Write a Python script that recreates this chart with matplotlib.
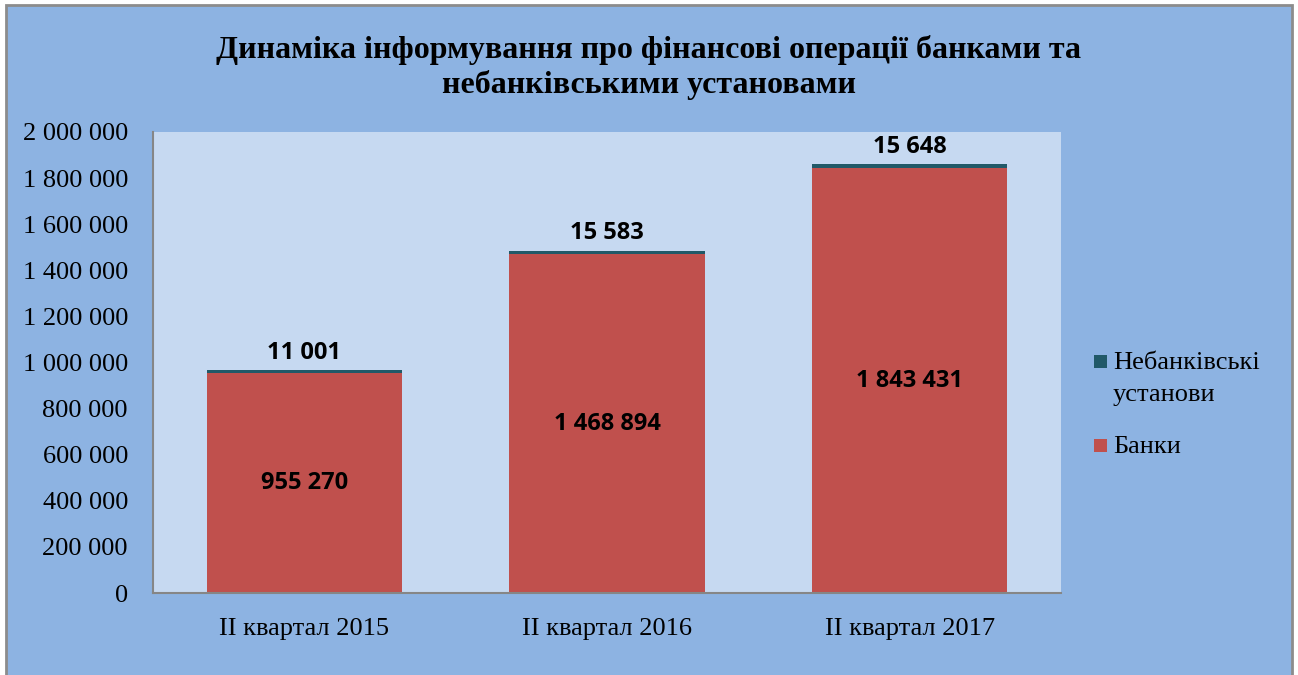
import matplotlib.pyplot as plt
import matplotlib.patches as mpatches
import numpy as np

# дані
kvartaly = ['II квартал 2015', 'II квартал 2016', 'II квартал 2017']
banky = [955270, 1468894, 1843431]
nebankivski = [11001, 15583, 15648]
serii = ['Небанківські\nустанови', 'Банки']
kolory = ['#215968', '#C0504D']
y_ticks = [0, 200000, 400000, 600000, 800000, 1000000, 1200000, 1400000, 1600000, 1800000, 2000000]


def fmt(v):
    return f'{v:,}'.replace(',', ' ')


fig = plt.figure(figsize=(12.98, 6.75), dpi=100)
fig.patch.set_facecolor('white')

# фон діаграми з сірою рамкою
fon = mpatches.Rectangle((6 / 1298, -0.05), 1286 / 1298, 1.05 - 5 / 675,
                         transform=fig.transFigure, facecolor='#8DB3E2',
                         edgecolor='#8C8C8C', linewidth=2, zorder=0)
fig.add_artist(fon)

ax = fig.add_axes([153 / 1298, 1 - 593 / 675, 908 / 1298, 461 / 675])
ax.set_facecolor('#C6D9F1')

x = np.arange(len(kvartaly))
b1 = ax.bar(x, banky, width=0.645, color=kolory[1], zorder=2)
b2 = ax.bar(x, nebankivski, width=0.645, bottom=banky, color=kolory[0], zorder=2)

for i in range(len(x)):
    ax.text(x[i], banky[i] / 2, fmt(banky[i]), ha='center', va='center',
            fontsize=17, fontweight='bold', family='Open Sans')
    ax.annotate(fmt(nebankivski[i]), (x[i], banky[i] + nebankivski[i]),
                xytext=(0, 4), textcoords='offset points', ha='center', va='bottom',
                fontsize=17, fontweight='bold', family='Open Sans')

ax.set_xlim(-0.5, 2.5)
ax.set_ylim(0, 2000000)
ax.set_yticks(y_ticks)
ax.set_yticklabels([fmt(v) for v in y_ticks])
ax.set_xticks(x)
ax.set_xticklabels(kvartaly)
ax.tick_params(axis='y', length=0, pad=18, labelsize=19)
ax.tick_params(axis='x', length=0, pad=18, labelsize=19)
for lbl in ax.get_xticklabels() + ax.get_yticklabels():
    lbl.set_family('Liberation Serif')

for s in ['top', 'right']:
    ax.spines[s].set_visible(False)
for s in ['left', 'bottom']:
    ax.spines[s].set_color('#868686')
    ax.spines[s].set_linewidth(1.5)

fig.text(0.5, 1 - 50 / 675, 'Динаміка інформування про фінансові операції банками та',
         ha='center', va='center', fontsize=23, fontweight='bold', family='Liberation Serif')
fig.text(0.5, 1 - 85 / 675, 'небанківськими установами',
         ha='center', va='center', fontsize=23, fontweight='bold', family='Liberation Serif')

# легенда
leg_y = [362, 446]
for k in range(len(serii)):
    yy = 1 - leg_y[k] / 675
    fig.add_artist(mpatches.Rectangle((1094 / 1298, yy - 6 / 675), 13 / 1298, 13 / 675,
                                      transform=fig.transFigure, facecolor=kolory[k],
                                      edgecolor='none'))
    fig.text(1113 / 1298, yy + 10 / 675, serii[k], ha='left', va='top', fontsize=19,
             family='Liberation Serif', linespacing=1.6)

fig.savefig('out.png', dpi=100)
